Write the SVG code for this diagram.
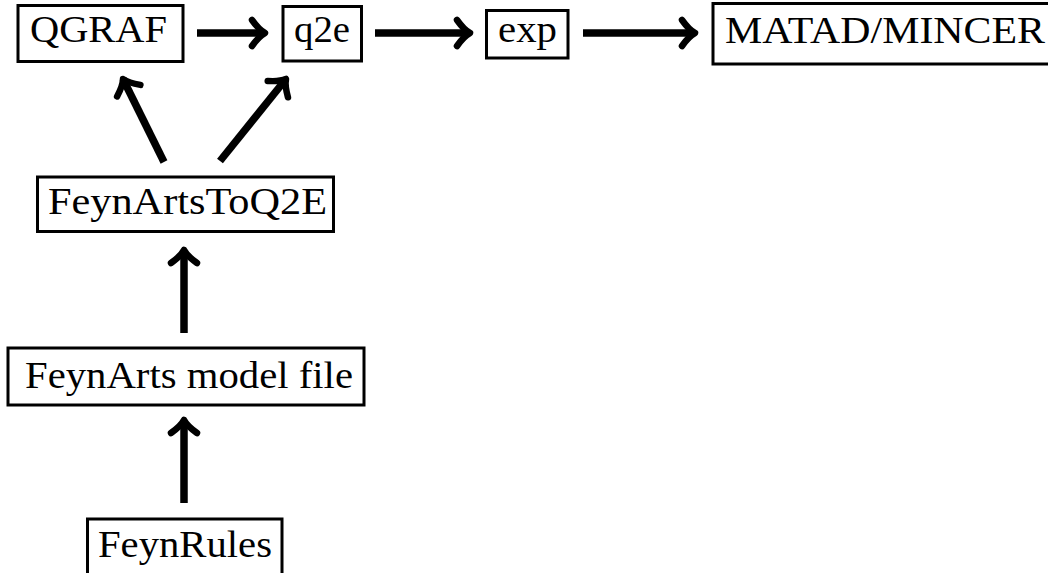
<svg xmlns="http://www.w3.org/2000/svg" width="1048" height="573" viewBox="0 0 1048 573">
<style>
.box{fill:#fff;stroke:#000;stroke-width:3}
.lbl{font-family:"Liberation Serif","DejaVu Serif",serif;font-size:38px;fill:#000}
.edge{stroke:#000;stroke-width:7.5;fill:none}
</style>
<defs>
<marker id="ah" markerUnits="userSpaceOnUse" markerWidth="40" markerHeight="40" viewBox="-20 -20 40 40" refX="0" refY="0" orient="auto" overflow="visible">
<path d="M -13,-13 C -8,-6 -4,-2 0,0 C -4,2 -8,6 -13,13" fill="none" stroke="#000" stroke-width="6.5" stroke-linecap="round" stroke-linejoin="round"/>
</marker>
</defs>
<rect width="1048" height="573" fill="#fff"/>
<g id="connectors">
<line class="edge" x1="197" y1="33" x2="265" y2="33" marker-end="url(#ah)"/>
<line class="edge" x1="375" y1="33" x2="470" y2="33" marker-end="url(#ah)"/>
<line class="edge" x1="583" y1="33" x2="695" y2="33" marker-end="url(#ah)"/>
<line class="edge" x1="164" y1="162" x2="123" y2="79" marker-end="url(#ah)"/>
<line class="edge" x1="220" y1="161" x2="286" y2="79" marker-end="url(#ah)"/>
<line class="edge" x1="184" y1="333" x2="184" y2="250" marker-end="url(#ah)"/>
<line class="edge" x1="184" y1="503" x2="184" y2="420" marker-end="url(#ah)"/>
</g>
<g id="qgraf">
<rect class="box" x="18" y="5.5" width="165" height="56"/>
<text class="lbl" x="30" y="42" textLength="137" lengthAdjust="spacingAndGlyphs">QGRAF</text>
</g>
<g id="q2e">
<rect class="box" x="283" y="6.5" width="78.5" height="54.5"/>
<text class="lbl" x="294" y="42" textLength="56" lengthAdjust="spacingAndGlyphs">q2e</text>
</g>
<g id="exp">
<rect class="box" x="486.5" y="10.5" width="81.5" height="47.5"/>
<text class="lbl" x="498" y="42" textLength="59" lengthAdjust="spacingAndGlyphs">exp</text>
</g>
<g id="matad">
<rect class="box" x="713" y="3.5" width="340" height="60.5"/>
<text class="lbl" x="725" y="43" textLength="320" lengthAdjust="spacingAndGlyphs">MATAD/MINCER</text>
</g>
<g id="feynartstoq2e">
<rect class="box" x="37.5" y="177" width="296" height="54.5"/>
<text class="lbl" x="48" y="214" textLength="279" lengthAdjust="spacingAndGlyphs">FeynArtsToQ2E</text>
</g>
<g id="modelfile">
<rect class="box" x="8" y="348" width="356" height="57"/>
<text class="lbl" x="25" y="388" textLength="328" lengthAdjust="spacingAndGlyphs">FeynArts model file</text>
</g>
<g id="feynrules">
<rect class="box" x="87.5" y="519" width="194.5" height="60"/>
<text class="lbl" x="98" y="557" textLength="174" lengthAdjust="spacingAndGlyphs">FeynRules</text>
</g>
</svg>
